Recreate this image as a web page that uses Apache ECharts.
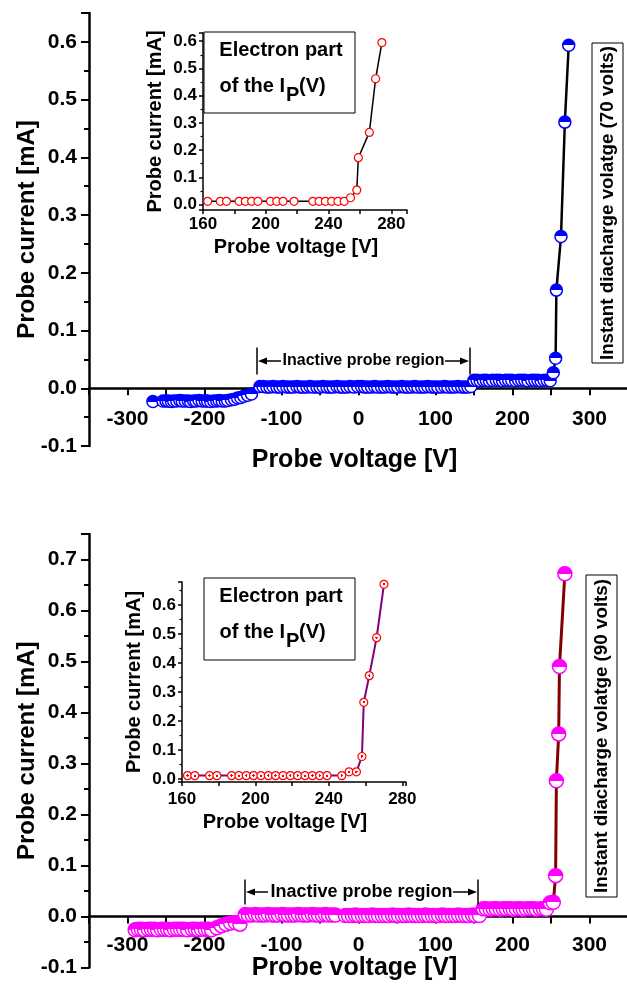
<!DOCTYPE html>
<html>
<head>
<meta charset="UTF-8">
<title>Probe I-V characteristics</title>
<script src="https://cdn.jsdelivr.net/npm/echarts@6/dist/echarts.min.js"></script>
<style>
  html, body { margin: 0; padding: 0; background: #fff; }
  #main { width: 627px; height: 997px; }
</style>
</head>
<body>
<div id="main"></div>
<script>
// ---------- data: 70 V discharge (top panel) ----------
var ionV70 = [-267, -254, -250, -247, -243, -240, -236, -232, -229, -225, -221, -218, -214, -211, -207, -203, -199, -196, -192, -188, -184, -181, -177, -173, -170];
var ionI70 = [-0.023, -0.022, -0.022, -0.022, -0.023,
              -0.022, -0.022, -0.021, -0.022, -0.022,
              -0.022, -0.023, -0.022, -0.022, -0.021,
              -0.022, -0.022, -0.022, -0.023, -0.022,
              -0.022, -0.021, -0.022, -0.022, -0.021];
var transV70 = [-165, -161, -157, -153, -149, -144, -139];
var transI70 = [-0.020, -0.019, -0.017, -0.016, -0.014, -0.012, -0.010];
var flatV70 = [-128, -124, -119, -115, -111, -106, -102, -98, -93, -89,
               -85, -80, -76, -72, -67, -63, -59, -54, -50, -46,
               -41, -37, -33, -28, -24, -20, -15, -11, -6, -1,
               4, 8, 12, 17, 21, 25, 30, 34, 38, 43,
               47, 51, 56, 60, 64, 69, 73, 77, 82, 86,
               90, 95, 99, 103, 108, 112, 116, 121, 125, 129,
               134, 138, 142, 146];
var flatI70 = [0.003, 0.003, 0.002, 0.002, 0.003, 0.002, 0.002, 0.003, 0.002, 0.002,
               0.002, 0.003, 0.002, 0.002, 0.002, 0.003, 0.002, 0.002, 0.002, 0.003,
               0.002, 0.002, 0.002, 0.003, 0.002, 0.002, 0.002, 0.003, 0.002, 0.003,
               0.003, 0.002, 0.002, 0.002, 0.003, 0.002, 0.002, 0.002, 0.003, 0.002,
               0.002, 0.002, 0.003, 0.002, 0.002, 0.002, 0.003, 0.002, 0.002, 0.002,
               0.003, 0.002, 0.002, 0.002, 0.002, 0.003, 0.002, 0.002, 0.002, 0.003,
               0.002, 0.002, 0.002, 0.003];
var plateauV70 = [150, 154, 158, 162, 166, 170, 174, 179, 183, 187, 191, 195, 199, 204, 208, 212, 216, 220, 225, 229, 233, 237, 241, 245, 249];
var plateauI70 = [0.014, 0.014, 0.013, 0.014, 0.014,
                  0.013, 0.014, 0.014, 0.014, 0.013,
                  0.014, 0.014, 0.014, 0.013, 0.014,
                  0.014, 0.014, 0.013, 0.014, 0.014,
                  0.014, 0.013, 0.014, 0.014, 0.013];
var electronV70 = [253, 256, 257, 263, 268, 273];
var electronI70 = [0.027, 0.052, 0.170, 0.263, 0.461, 0.594];

// inset, 70 V
var insetV70 = [163, 171, 175, 183, 187, 191, 195, 203, 207, 211, 218, 230, 234, 238, 242, 246, 250, 254, 258, 259, 266, 270, 274];
var insetI70 = [0.012, 0.012, 0.012, 0.012, 0.012, 0.012, 0.012, 0.012, 0.012, 0.012,
                0.012, 0.012, 0.012, 0.012, 0.012, 0.012, 0.012,
                0.025, 0.053, 0.172, 0.265, 0.462, 0.595];

// ---------- data: 90 V discharge (bottom panel) ----------
var ionV90 = [-290, -286, -282, -278, -273, -269, -265, -261, -256, -252, -248, -244, -239, -235, -231, -227, -222, -216, -212, -208, -204, -199, -195, -191];
var ionI90 = [-0.026, -0.025, -0.025, -0.026, -0.025, -0.025, -0.025, -0.026,
              -0.025, -0.025, -0.025, -0.026, -0.025, -0.025, -0.025, -0.025,
              -0.026, -0.025, -0.025, -0.026, -0.025, -0.025, -0.025, -0.026];
var transV90 = [-184, -178, -172, -166, -160, -154];
var transI90 = [-0.022, -0.018, -0.015, -0.013, -0.012, -0.015];
var flatV90 = [-147, -143, -138, -134, -130, -125, -121, -117, -112, -108,
               -104, -99, -95, -91, -86, -82, -78, -73, -69, -65,
               -60, -56, -52, -47, -43, -39, -34, -30, -17, -13,
               -8, -4, 0, 5, 9, 13, 18, 22, 26, 31,
               35, 39, 44, 48, 52, 57, 61, 65, 70, 74,
               78, 83, 87, 91, 96, 100, 104, 109, 113, 117,
               122, 126, 130, 135, 139, 143, 148, 152, 157];
var flatI90 = [0.004, 0.003, 0.003, 0.004, 0.003, 0.003, 0.003, 0.004, 0.003, 0.003,
               0.003, 0.004, 0.003, 0.003, 0.003, 0.003, 0.004, 0.003, 0.003, 0.003,
               0.004, 0.003, 0.003, 0.003, 0.004, 0.003, 0.003, 0.003, 0.002, 0.002,
               0.002, 0.003, 0.002, 0.002, 0.002, 0.002, 0.003, 0.002, 0.002, 0.002,
               0.002, 0.002, 0.003, 0.002, 0.002, 0.002, 0.002, 0.003, 0.002, 0.002,
               0.002, 0.002, 0.003, 0.002, 0.002, 0.002, 0.002, 0.003, 0.002, 0.002,
               0.002, 0.002, 0.003, 0.002, 0.002, 0.002, 0.003, 0.002, 0.002];
var plateauV90 = [162, 166, 171, 175, 179, 184, 188, 192, 197, 201, 205, 210, 214, 218, 223, 227, 231, 236, 240, 244];
var plateauI90 = [0.015, 0.015, 0.014, 0.015, 0.015,
                  0.014, 0.015, 0.015, 0.015, 0.014,
                  0.015, 0.015, 0.014, 0.015, 0.015,
                  0.015, 0.014, 0.015, 0.015, 0.014];
var electronV90 = [249, 253, 256, 257, 260, 261, 268];
var electronI90 = [0.027, 0.028, 0.080, 0.266, 0.358, 0.490, 0.672];

// inset, 90 V
var insetV90 = [163, 167, 175, 179, 187, 191, 195, 199, 203, 207, 211, 215, 219, 223, 227, 231, 235, 239, 247, 251, 255, 258, 259, 262, 266, 270];
var insetI90 = [0.012, 0.012, 0.012, 0.012, 0.012, 0.012, 0.012, 0.012, 0.012, 0.012,
                0.012, 0.012, 0.012, 0.012, 0.012, 0.012, 0.012, 0.012, 0.012,
                0.025, 0.025, 0.078, 0.265, 0.357, 0.488, 0.672];

// ---------- tick labels ----------
var mainXLabels = ['-300', '-200', '-100', '0', '100', '200', '300'];
var mainYLabels70 = ['-0.1', '0.0', '0.1', '0.2', '0.3', '0.4', '0.5', '0.6'];
var mainYLabels90 = ['-0.1', '0.0', '0.1', '0.2', '0.3', '0.4', '0.5', '0.6', '0.7'];
var insetXLabels = ['160', '200', '240', '280'];
var insetYLabels = ['0.0', '0.1', '0.2', '0.3', '0.4', '0.5', '0.6'];

// ---------- helpers ----------
var FONT = 'Liberation Sans';

function pairs(xs, ys) {
  return xs.map(function (x, i) { return [x, ys[i]]; });
}

function onlyLabels(list, digits) {
  return function (v) {
    var s = v.toFixed(digits);
    if (s === '-0.0' || s === '-0') s = s.slice(1);
    return (Math.abs(v - parseFloat(s)) < 1e-6 && list.indexOf(s) >= 0) ? s : '';
  };
}

function halfFill(c) {
  return new echarts.graphic.LinearGradient(0, 0, 0, 1, [
    { offset: 0, color: c }, { offset: 0.5, color: c },
    { offset: 0.5, color: '#fff' }, { offset: 1, color: '#fff' }
  ]);
}

// main x axis sits on y = 0: pulled up from the grid bottom with a negative offset
function mainX(idx, offset, margin, gap) {
  return {
    type: 'value', gridIndex: idx, min: -350, max: 350, interval: 50, offset: offset,
    name: 'Probe voltage [V]', nameLocation: 'middle', nameGap: gap, nameMoveOverlap: false,
    nameTextStyle: { fontFamily: FONT, fontWeight: 'bold', fontSize: 25, color: '#000', padding: [0, 8, 0, 0] },
    axisLine: { show: true, onZero: false, lineStyle: { color: '#000', width: 2.5 } },
    axisTick: { show: true, length: 7, lineStyle: { color: '#000', width: 2 } },
    axisLabel: { show: true, margin: margin, fontFamily: FONT, fontWeight: 'bold', fontSize: 21, color: '#000',
                 formatter: onlyLabels(mainXLabels, 0) },
    splitLine: { show: false }
  };
}

function mainY(idx, max, labels) {
  return {
    type: 'value', gridIndex: idx, min: -0.1, max: max, interval: 0.1,
    name: 'Probe current [mA]', nameLocation: 'middle', nameGap: 50, nameMoveOverlap: false,
    nameTextStyle: { fontFamily: FONT, fontWeight: 'bold', fontSize: 24, color: '#000' },
    axisLine: { show: true, onZero: false, lineStyle: { color: '#000', width: 2.5 } },
    axisTick: { show: true, length: 8, lineStyle: { color: '#000', width: 2 } },
    minorTick: { show: true, splitNumber: 2, length: 5, lineStyle: { color: '#000', width: 2 } },
    axisLabel: { show: true, margin: 12, fontFamily: FONT, fontWeight: 'bold', fontSize: 21, color: '#000',
                 formatter: onlyLabels(labels, 1) },
    splitLine: { show: false }, minorSplitLine: { show: false }
  };
}

function insetX(idx, max, gap, margin) {
  return {
    type: 'value', gridIndex: idx, min: 160, max: max, interval: 20,
    name: 'Probe voltage [V]', nameLocation: 'middle', nameGap: gap,
    nameTextStyle: { fontFamily: FONT, fontWeight: 'bold', fontSize: 20, color: '#000', padding: [0, 18, 0, 0] },
    axisLine: { show: true, onZero: false, lineStyle: { color: '#000', width: 1.5 } },
    axisTick: { show: true, length: 4, lineStyle: { color: '#000', width: 1.5 } },
    axisLabel: { show: true, margin: margin, fontFamily: FONT, fontWeight: 'bold', fontSize: 17, color: '#000',
                 formatter: onlyLabels(insetXLabels, 0) },
    splitLine: { show: false }
  };
}

function insetY(idx, min, max) {
  return {
    type: 'value', gridIndex: idx, min: min, max: max,
    name: 'Probe current [mA]', nameLocation: 'middle', nameGap: 38,
    nameTextStyle: { fontFamily: FONT, fontWeight: 'bold', fontSize: 20, color: '#000' },
    axisLine: { show: true, onZero: false, lineStyle: { color: '#000', width: 1.5 } },
    axisTick: { show: true, length: 4, lineStyle: { color: '#000', width: 1.5 } },
    minorTick: { show: true, splitNumber: 2, length: 2.5, lineStyle: { color: '#000', width: 1.2 } },
    axisLabel: { show: true, margin: 6, fontFamily: FONT, fontWeight: 'bold', fontSize: 17, color: '#000',
                 formatter: onlyLabels(insetYLabels, 1) },
    splitLine: { show: false }, minorSplitLine: { show: false }
  };
}

function txt(x, y, s, size, align, rot) {
  return {
    type: 'text', x: x, y: y, rotation: rot || 0, z: 10,
    style: { text: s, font: 'bold ' + size + 'px "' + FONT + '"', fill: '#000',
             textAlign: align || 'center', textVerticalAlign: 'middle' }
  };
}
function box(x, y, w, h) {
  return { type: 'rect', z: 9, shape: { x: x, y: y, width: w, height: h },
           style: { fill: '#fff', stroke: '#000', lineWidth: 1 } };
}
function seg(x1, y1, x2, y2, w) {
  return { type: 'line', z: 10, shape: { x1: x1, y1: y1, x2: x2, y2: y2 },
           style: { stroke: '#000', lineWidth: w || 1.5 } };
}
function head(x, y, dir) {
  return { type: 'polygon', z: 10,
           shape: { points: [[x, y], [x - dir * 9, y - 3.5], [x - dir * 9, y + 3.5]] },
           style: { fill: '#000' } };
}

// legend box, "Inactive probe region" marker and the vertical note for one panel
function panelNotes(boxTop, boxH, region, note) {
  return [
    box(204, boxTop, 151, boxH),
    txt(281, boxTop + 18, 'Electron part', 20),
    txt(285, boxTop + 54, 'of the I', 20, 'right'),
    txt(286, boxTop + 63, 'P', 20, 'left'),
    txt(299, boxTop + 54, '(V)', 20, 'left'),
    seg(region.x1, region.y - region.h / 2, region.x1, region.y + region.h / 2),
    seg(region.x2, region.y - region.h / 2, region.x2, region.y + region.h / 2),
    txt((region.x1 + region.x2) / 2, region.y, 'Inactive probe region', region.size),
    seg(region.x1 + 8, region.y, region.t1, region.y),
    head(region.x1 + 1, region.y, -1),
    seg(region.t2, region.y, region.x2 - 8, region.y),
    head(region.x2 - 1, region.y, 1),
    box(note.x, note.y, 31, note.h),
    txt(note.x + 15.5, note.y + note.h / 2, note.text, 18.8, 'center', Math.PI / 2)
  ];
}

var data70 = pairs(ionV70.concat(transV70, flatV70, plateauV70, electronV70),
                   ionI70.concat(transI70, flatI70, plateauI70, electronI70));
var data90 = pairs(ionV90.concat(transV90, flatV90, plateauV90, electronV90),
                   ionI90.concat(transI90, flatI90, plateauI90, electronI90));

var chart = echarts.init(document.getElementById('main'));

var option = {
  animation: false,
  backgroundColor: '#fff',
  grid: [
    { left: 89, top: 13, width: 539, height: 433, outerBoundsMode: 'none' },
    { left: 203, top: 33, width: 204, height: 177, outerBoundsMode: 'none' },
    { left: 89, top: 534, width: 539, height: 433.5, outerBoundsMode: 'none' },
    { left: 182, top: 582, width: 224, height: 200, outerBoundsMode: 'none' }
  ],
  xAxis: [
    mainX(0, -57.7, 20, 59),
    insetX(1, 290, 27, 6),
    mainX(2, -51, 18, 39),
    insetX(3, 282, 30, 9)
  ],
  yAxis: [
    mainY(0, 0.65, mainYLabels70),
    insetY(1, -0.02, 0.63),
    mainY(2, 0.75, mainYLabels90),
    insetY(3, -0.01, 0.68)
  ],
  series: [
    {
      type: 'line', xAxisIndex: 0, yAxisIndex: 0, data: data70, z: 3,
      symbol: 'circle', symbolSize: 12, silent: true,
      lineStyle: { color: '#000', width: 2.5 },
      itemStyle: { color: halfFill('#0000ff'), borderColor: '#0000ff', borderWidth: 1.5 }
    },
    {
      type: 'line', xAxisIndex: 1, yAxisIndex: 1, data: pairs(insetV70, insetI70), z: 3,
      symbol: 'circle', symbolSize: 8, silent: true,
      lineStyle: { color: '#000', width: 1.5 },
      itemStyle: { color: '#fff', borderColor: '#ff0000', borderWidth: 1.2 }
    },
    {
      type: 'line', xAxisIndex: 2, yAxisIndex: 2, data: data90, z: 3,
      symbol: 'circle', symbolSize: 14, silent: true,
      lineStyle: { color: '#800000', width: 3 },
      itemStyle: { color: halfFill('#ff00ff'), borderColor: '#ff00ff', borderWidth: 1.5 }
    },
    {
      type: 'line', xAxisIndex: 3, yAxisIndex: 3, data: pairs(insetV90, insetI90), z: 3,
      symbol: 'circle', symbolSize: 8, silent: true,
      lineStyle: { color: '#800080', width: 2 },
      itemStyle: {
        color: new echarts.graphic.RadialGradient(0.5, 0.5, 0.5, [
          { offset: 0, color: '#ff0000' }, { offset: 0.25, color: '#ff0000' },
          { offset: 0.25, color: '#fff' }, { offset: 1, color: '#fff' }
        ]),
        borderColor: '#ff0000', borderWidth: 1.2
      }
    }
  ],
  graphic: panelNotes(32, 81,
      { x1: 257, x2: 470, y: 361, h: 27, t1: 281, t2: 445, size: 16 },
      { x: 592, y: 43, h: 320, text: 'Instant diacharge volatge (70 volts)' })
    .concat(panelNotes(578, 82,
      { x1: 245, x2: 478, y: 892, h: 25, t1: 268, t2: 453, size: 18 },
      { x: 586, y: 575, h: 322, text: 'Instant diacharge volatge (90 volts)' }))
};

chart.setOption(option);
</script>
</body>
</html>
